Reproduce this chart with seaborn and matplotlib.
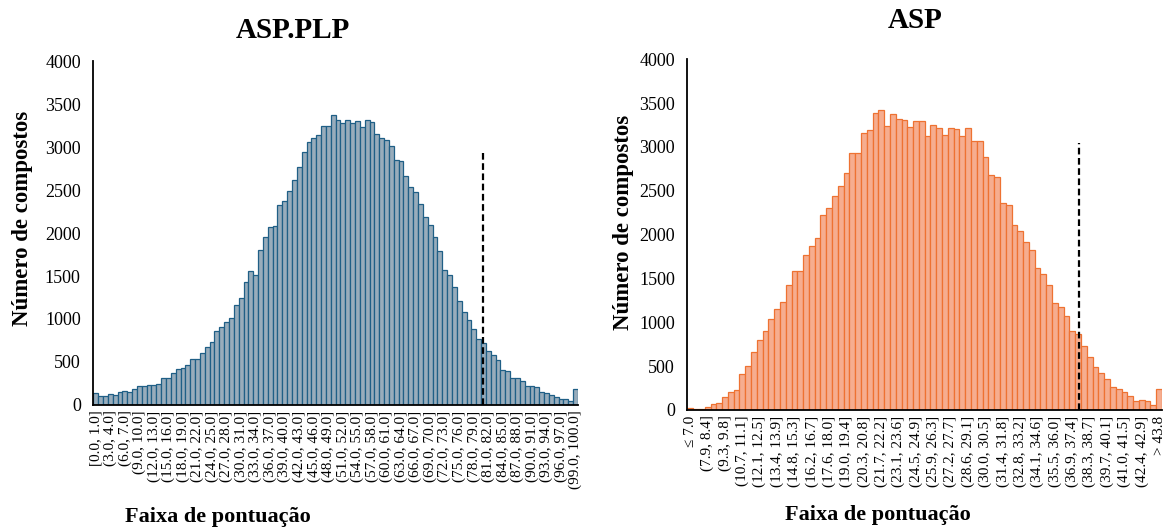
import matplotlib
matplotlib.use("Agg")
import matplotlib.pyplot as plt
import seaborn as sns
import pandas as pd

sns.set_style("white")
plt.rcParams["font.family"] = ["Liberation Serif", "DejaVu Serif"]
plt.rcParams["text.color"] = "black"
plt.rcParams["axes.labelcolor"] = "black"
plt.rcParams["xtick.color"] = "black"
plt.rcParams["ytick.color"] = "black"

# ---------------- data ----------------
asp_plp_counts = [
    136, 105, 109, 128, 120, 155, 167, 151, 190, 217,
    225, 237, 237, 249, 311, 315, 369, 419, 427, 462,
    536, 536, 610, 676, 738, 866, 905, 963, 1017, 1161,
    1243, 1433, 1553, 1515, 1806, 1957, 2066, 2078, 2322, 2373,
    2493, 2614, 2765, 2944, 3064, 3107, 3142, 3250, 3250, 3367,
    3313, 3282, 3317, 3274, 3301, 3227, 3313, 3289, 3150, 3099,
    3084, 3014, 2847, 2839, 2660, 2540, 2474, 2338, 2183, 2090,
    1950, 1794, 1573, 1511, 1375, 1208, 1087, 990, 878, 765,
    718, 629, 583, 524, 408, 396, 318, 311, 276, 221,
    221, 210, 155, 144, 113, 97, 70, 70, 47, 190,
]
asp_plp_tick_labels = [
    "[0.0, 1.0]", "(3.0, 4.0]", "(6.0, 7.0]", "(9.0, 10.0]", "(12.0, 13.0]",
    "(15.0, 16.0]", "(18.0, 19.0]", "(21.0, 22.0]", "(24.0, 25.0]", "(27.0, 28.0]",
    "(30.0, 31.0]", "(33.0, 34.0]", "(36.0, 37.0]", "(39.0, 40.0]", "(42.0, 43.0]",
    "(45.0, 46.0]", "(48.0, 49.0]", "(51.0, 52.0]", "(54.0, 55.0]", "(57.0, 58.0]",
    "(60.0, 61.0]", "(63.0, 64.0]", "(66.0, 67.0]", "(69.0, 70.0]", "(72.0, 73.0]",
    "(75.0, 76.0]", "(78.0, 79.0]", "(81.0, 82.0]", "(84.0, 85.0]", "(87.0, 88.0]",
    "(90.0, 91.0]", "(93.0, 94.0]", "(96.0, 97.0]", "(99.0, 100.0]",
]
asp_plp_cutoff_bin = 79.9
asp_plp_cutoff_height = 2940

asp_counts = [
    19, 8, 8, 34, 65, 80, 148, 209, 232, 407,
    506, 662, 802, 905, 1034, 1148, 1232, 1422, 1589, 1589,
    1768, 1875, 1962, 2228, 2300, 2445, 2555, 2707, 2935, 2935,
    3163, 3190, 3388, 3418, 3240, 3380, 3319, 3308, 3224, 3300,
    3293, 3125, 3251, 3217, 3141, 3221, 3209, 3122, 3213, 3072,
    3068, 2886, 2681, 2658, 2365, 2335, 2114, 2046, 1913, 1829,
    1624, 1555, 1422, 1221, 1171, 1068, 897, 867, 730, 608,
    494, 422, 357, 266, 236, 209, 160, 106, 118, 99,
    61, 240,
]
asp_tick_labels = [
    "≤ 7.0", "(7.9, 8.4]", "(9.3, 9.8]", "(10.7, 11.1]", "(12.1, 12.5]",
    "(13.4, 13.9]", "(14.8, 15.3]", "(16.2, 16.7]", "(17.6, 18.0]", "(19.0, 19.4]",
    "(20.3, 20.8]", "(21.7, 22.2]", "(23.1, 23.6]", "(24.5, 24.9]", "(25.9, 26.3]",
    "(27.2, 27.7]", "(28.6, 29.1]", "(30.0, 30.5]", "(31.4, 31.8]", "(32.8, 33.2]",
    "(34.1, 34.6]", "(35.5, 36.0]", "(36.9, 37.4]", "(38.3, 38.7]", "(39.7, 40.1]",
    "(41.0, 41.5]", "(42.4, 42.9]", "> 43.8",
]
asp_cutoff_bin = 67.1
asp_cutoff_height = 3040

titles = ["ASP.PLP", "ASP"]
y_label = "Número de compostos"
x_label = "Faixa de pontuação"
y_ticks = [0, 500, 1000, 1500, 2000, 2500, 3000, 3500, 4000]

# ---------------- figure ----------------
fig = plt.figure(figsize=(11.66, 5.31), dpi=100)
ax1 = fig.add_axes([0.080, 0.2373, 0.4157, 0.6478])
ax2 = fig.add_axes([0.5895, 0.2279, 0.4071, 0.6605])

panels = [
    (ax1, asp_plp_counts, asp_plp_tick_labels, "#98acbb", "#1f5f86",
     asp_plp_cutoff_bin, asp_plp_cutoff_height),
    (ax2, asp_counts, asp_tick_labels, "#f6ad8f", "#ee7232",
     asp_cutoff_bin, asp_cutoff_height),
]

for ax, counts, labels, fill, edge, cut_x, cut_h in panels:
    df = pd.DataFrame({"bin": list(range(len(counts))), "count": counts})
    sns.barplot(data=df, x="bin", y="count", ax=ax, color=fill,
                edgecolor=edge, linewidth=0.9, width=1.0, saturation=1)
    n = len(counts)
    ax.set_xlim(-0.5, n - 0.5)
    ax.set_ylim(0, 4000)
    ax.set_yticks(y_ticks)
    ax.set_yticklabels([str(t) for t in y_ticks], fontsize=13)
    ax.set_xticks(list(range(0, n, 3)))
    ax.set_xticklabels(labels, rotation=90, fontsize=11)
    ax.tick_params(axis="both", length=0)
    ax.tick_params(axis="y", pad=9)
    ax.tick_params(axis="x", pad=4)
    ax.set_xlabel("")
    ax.set_ylabel("")
    for side in ["top", "right"]:
        ax.spines[side].set_visible(False)
    for side in ["left", "bottom"]:
        ax.spines[side].set_color("black")
        ax.spines[side].set_linewidth(1.3)
    ax.plot([cut_x, cut_x], [0, cut_h], color="black", linestyle=(0, (3, 1.6)),
            linewidth=1.6, zorder=5)

# titles and axis labels placed as in reference
fig.text(293 / 1166, 1 - 38 / 531, titles[0], fontsize=21, fontweight="bold",
         ha="center", va="baseline")
fig.text(915 / 1166, 1 - 28 / 531, titles[1], fontsize=21, fontweight="bold",
         ha="center", va="baseline")
fig.text(23 / 1166, 1 - 218 / 531, y_label, fontsize=16.5, fontweight="bold",
         rotation=90, ha="center", va="center")
fig.text(623 / 1166, 1 - 222 / 531, y_label, fontsize=16.5, fontweight="bold",
         rotation=90, ha="center", va="center")
fig.text(218 / 1166, 1 - 522 / 531, x_label, fontsize=16, fontweight="bold",
         ha="center", va="baseline")
fig.text(878 / 1166, 1 - 520 / 531, x_label, fontsize=16, fontweight="bold",
         ha="center", va="baseline")

fig.savefig("out.png", dpi=100)
